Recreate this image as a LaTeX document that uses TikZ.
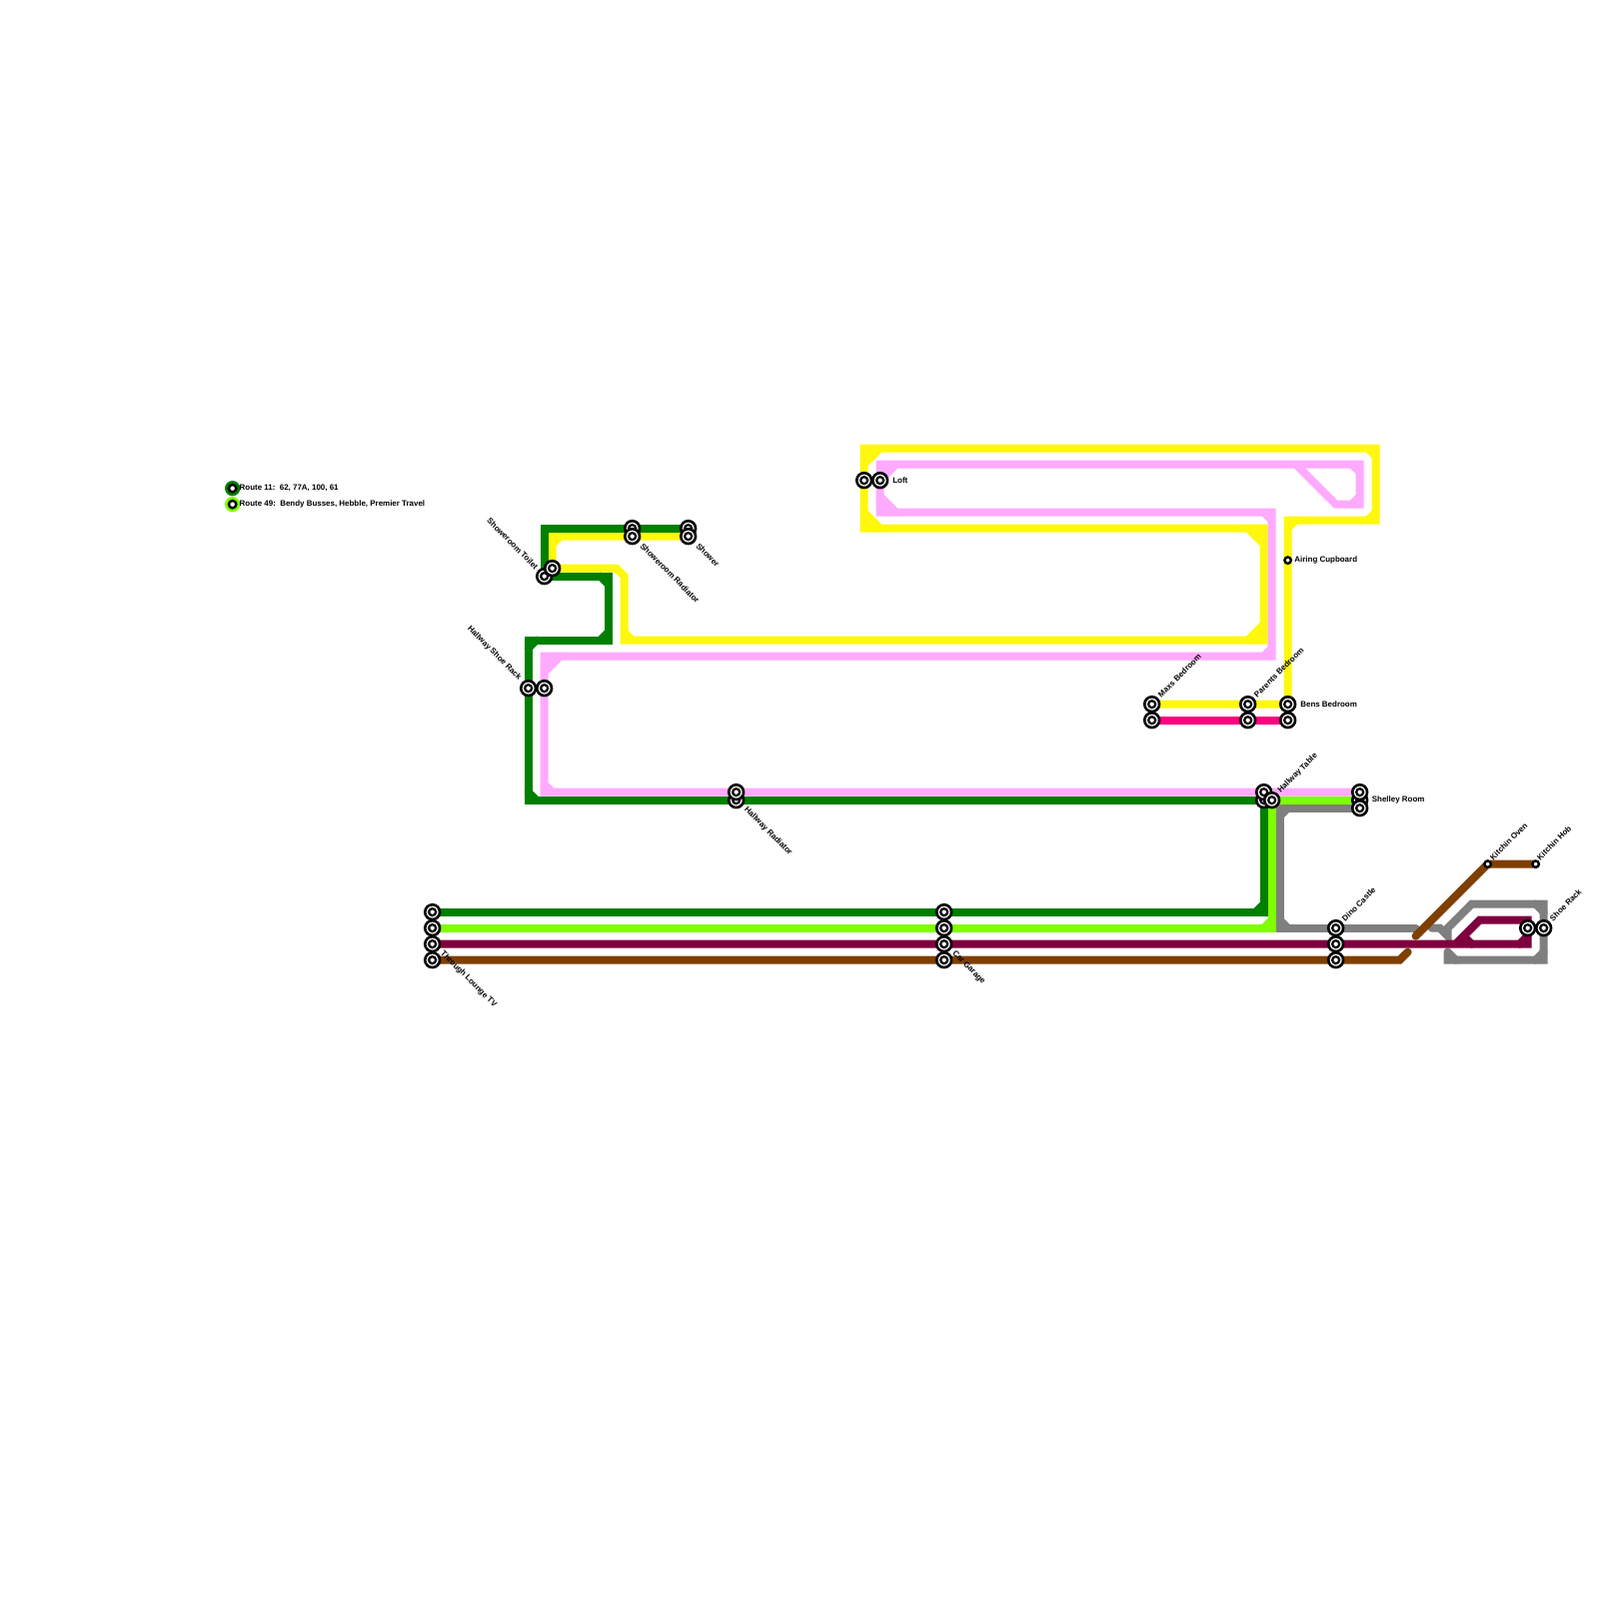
\documentclass[tikz,border=0pt]{standalone}
\usepackage{fontspec}
\setmainfont{Liberation Sans}
\definecolor{mapgreen}{RGB}{0,127,0}
\definecolor{maplime}{RGB}{127,255,0}
\definecolor{mapyellow}{RGB}{255,248,14}
\definecolor{mappink}{RGB}{255,170,255}
\definecolor{maprose}{RGB}{255,0,127}
\definecolor{mapmaroon}{RGB}{127,0,63}
\definecolor{mapbrown}{RGB}{127,63,0}
\definecolor{mapgrey}{RGB}{127,127,127}
\usetikzlibrary{backgrounds}

\begin{document}
\begin{tikzpicture}[x=.16cm, y=-.16cm,
  metroline/.style={line width=.08cm, line cap=round},
  stationbig/.style={circle, draw=black, line width=.026cm, fill=white, inner sep=0pt, minimum size=.148cm,
    path picture={\draw[line width=.022cm] (path picture bounding box.center) circle (.035cm);}},
  stationsmall/.style={circle, draw=black, line width=.024cm, fill=white, inner sep=0pt, minimum size=.064cm},
  legendstop/.style={circle, fill=#1, inner sep=0pt, minimum size=.153cm,
    path picture={\draw[line width=.024cm, fill=white] (path picture bounding box.center) circle (.037cm);}},
  stoplabel/.style={font=\fontsize{2.26}{3}\selectfont\bfseries, inner sep=0pt, anchor=west},
  uplabel/.style={stoplabel, rotate=45},
  downlabel/.style={stoplabel, rotate=-45},
  backlabel/.style={stoplabel, rotate=-45, anchor=east}]

\useasboundingbox (-.04,-.04) rectangle (99.96,99.96);

% Legend
\node[legendstop=mapgreen] (legend11) at (14.5,30.5) {};
\node[legendstop=maplime] (legend49) at (14.5,31.5) {};
\node[stoplabel] (legend11text) at (14.9,30.5) {Route 11:~~62, 77A, 100, 61};
\node[stoplabel] (legend49text) at (14.9,31.5) {Route 49:~~Bendy Busses, Hebble, Premier Travel};

% Stations
\node[stationbig] (toilet1) at (34,36) {};
\node[stationbig] (toilet2) at (34.5,35.5) {};
\node[stationbig] (shoe1) at (33,43) {};
\node[stationbig] (shoe2) at (34,43) {};
\node[stationbig] (radiator1) at (39.5,33) {};
\node[stationbig] (radiator2) at (39.5,33.5) {};
\node[stationbig] (shower1) at (43,33) {};
\node[stationbig] (shower2) at (43,33.5) {};
\node[stationbig] (hallrad2) at (46,50) {};
\node[stationbig] (hallrad1) at (46,49.5) {};
\node[stationbig] (loft1) at (54,30) {};
\node[stationbig] (loft2) at (55,30) {};
\node[stationsmall] (airing) at (80.5,35) {};
\node[stationbig] (maxs1) at (72,44) {};
\node[stationbig] (maxs2) at (72,45) {};
\node[stationbig] (parents1) at (78,44) {};
\node[stationbig] (parents2) at (78,45) {};
\node[stationbig] (bens1) at (80.5,44) {};
\node[stationbig] (bens2) at (80.5,45) {};
\node[stationbig] (table2) at (79,50) {};
\node[stationbig] (table1) at (79,49.5) {};
\node[stationbig] (table3) at (79.5,50) {};
\node[stationbig] (shelley2) at (85,50) {};
\node[stationbig] (shelley1) at (85,49.5) {};
\node[stationbig] (shelley3) at (85,50.5) {};
\node[stationbig] (tv1) at (27,57) {};
\node[stationbig] (tv2) at (27,58) {};
\node[stationbig] (tv3) at (27,59) {};
\node[stationbig] (tv4) at (27,60) {};
\node[stationbig] (car1) at (59,57) {};
\node[stationbig] (car2) at (59,58) {};
\node[stationbig] (car3) at (59,59) {};
\node[stationbig] (car4) at (59,60) {};
\node[stationbig] (dino1) at (83.5,58) {};
\node[stationbig] (dino2) at (83.5,59) {};
\node[stationbig] (dino3) at (83.5,60) {};
\node[stationbig] (rack1) at (95.5,58) {};
\node[stationbig] (rack2) at (96.5,58) {};
\node[stationsmall] (oven) at (93,54) {};
\node[stationsmall] (hob) at (96,54) {};

% Labels
\node[backlabel] (toiletlabel) at (33.56,35.5) {Showeroom Toilet};
\node[backlabel] (shoelabel) at (32.5,42.44) {Hallway Shoe Rack};
\node[downlabel] (radiatorlabel) at (40.06,34) {Showeroom Radiator};
\node[downlabel] (showerlabel) at (43.56,34) {Shower};
\node[downlabel] (hallradlabel) at (46.56,50.5) {Hallway Radiator};
\node[downlabel] (tvlabel) at (27.56,59.5) {Through Lounge TV};
\node[downlabel] (carlabel) at (59.56,59.5) {Car Garage};
\node[stoplabel] (loftlabel) at (55.75,30) {Loft};
\node[stoplabel] (airinglabel) at (80.88,35) {Airing Cupboard};
\node[stoplabel] (benslabel) at (81.25,44) {Bens Bedroom};
\node[stoplabel] (shelleylabel) at (85.72,50) {Shelley Room};
\node[uplabel] (maxslabel) at (72.44,43.5) {Maxs Bedroom};
\node[uplabel] (parentslabel) at (78.44,43.5) {Parents Bedroom};
\node[uplabel] (tablelabel) at (79.94,49.5) {Hallway Table};
\node[uplabel] (dinolabel) at (83.94,57.5) {Dino Castle};
\node[uplabel] (ovenlabel) at (93.2,53.7) {Kitchin Oven};
\node[uplabel] (hoblabel) at (96.13,53.7) {Kitchin Hob};
\node[uplabel] (racklabel) at (96.94,57.5) {Shoe Rack};

\begin{scope}[on background layer]
% Yellow line
\draw[metroline, mapyellow] (shower2.center) -- (radiator2.center) -- (34.5,33.5) -- (toilet2.center) -- (38.5,35.5) -- (39,36) -- (39,40)
  -- (79,40) -- (79,33) -- (54,33) -- (loft1.center) -- (54,28) -- (86,28) -- (86,32.5) -- (80.5,32.5) -- (airing.center) -- (bens1.center)
  -- (parents1.center) -- (maxs1.center);
\draw[metroline, mapyellow] (35,33.5) -- (34.5,34) (39,39.5) -- (39.5,40) (78,40) -- (79,39) (79,34) -- (78,33)
  (55,33) -- (54,32) (54,29) -- (55,28) (85.5,28) -- (86,28.5) (86,32) -- (85.5,32.5) (81,32.5) -- (80.5,33);
\draw[metroline, mapyellow] (78.5,40) -- (79,39.5) (79,33.5) -- (78.5,33) (54.5,33) -- (54,32.5) (54,28.5) -- (54.5,28);

% Pink line
\draw[metroline, mappink] (shelley1.center) -- (table1.center) -- (hallrad1.center) -- (34,49.5) -- (shoe2.center) -- (34,41) -- (79.5,41)
  -- (79.5,32) -- (55,32) -- (loft2.center) -- (55,29) -- (85,29) -- (85,31.5) -- (83.5,31.5) -- (81,29);
\draw[metroline, mappink] (34.5,49.5) -- (34,49) (34,42) -- (35,41) (79,41) -- (79.5,40.5) (79.5,32.5) -- (79,32)
  (56,32) -- (55,31) (55,30) -- (56,29) (84.5,29) -- (85,29.5) (85,31) -- (84.5,31.5);
\draw[metroline, mappink] (34,41.5) -- (34.5,41) (55.5,32) -- (55,31.5) (55,29.5) -- (55.5,29);

% Rose line
\draw[metroline, maprose] (maxs2.center) -- (parents2.center) -- (bens2.center);

% Dark green line
\draw[metroline, mapgreen] (shower1.center) -- (radiator1.center) -- (34,33) -- (toilet1.center) -- (38,36) -- (38,40) -- (33,40)
  -- (shoe1.center) -- (33,50) -- (hallrad2.center) -- (table2.center) -- (79,57) -- (car1.center) -- (tv1.center);
\draw[metroline, mapgreen] (37.5,36) -- (38,36.5) (38,39.5) -- (37.5,40) (33.5,40) -- (33,40.5) (33,49.5) -- (33.5,50) (79,56.5) -- (78.5,57);

% Lime line
\draw[metroline, maplime] (shelley2.center) -- (table3.center) -- (79.5,58) -- (car2.center) -- (tv2.center);
\draw[metroline, maplime] (79.5,57.5) -- (79,58);

% Grey line
\draw[metroline, mapgrey] (shelley3.center) -- (80,50.5) -- (80,58) -- (dino1.center) -- (88.5,58);
\draw[metroline, mapgrey] (80.5,50.5) -- (80,51) (80,57.5) -- (80.5,58);
\draw[metroline, mapgrey] (89.5,58) -- (90,58) -- (90.5,58.5) -- (90.5,58) -- (92,56.5) -- (96.5,56.5) -- (rack2.center) -- (96.5,60) -- (90.5,60) -- (90.5,59.5);
\draw[metroline, mapgrey] (96,56.5) -- (96.5,57) (96.5,59.5) -- (96,60) (91,60) -- (90.5,59.5);

% Maroon line
\draw[metroline, mapmaroon] (tv3.center) -- (car3.center) -- (dino2.center) -- (95.5,59) -- (rack1.center) -- (95.5,57.5) -- (92.5,57.5) -- (91,59);
\draw[metroline, mapmaroon] (95.5,58.5) -- (95,59) (91.5,58.5) -- (92,59);

% Brown line
\draw[metroline, mapbrown] (tv4.center) -- (car4.center) -- (dino3.center) -- (87.5,60) -- (88,59.5);
\draw[metroline, mapbrown] (88.5,58.5) -- (oven.center) -- (hob.center);
\end{scope}

\end{tikzpicture}
\end{document}
